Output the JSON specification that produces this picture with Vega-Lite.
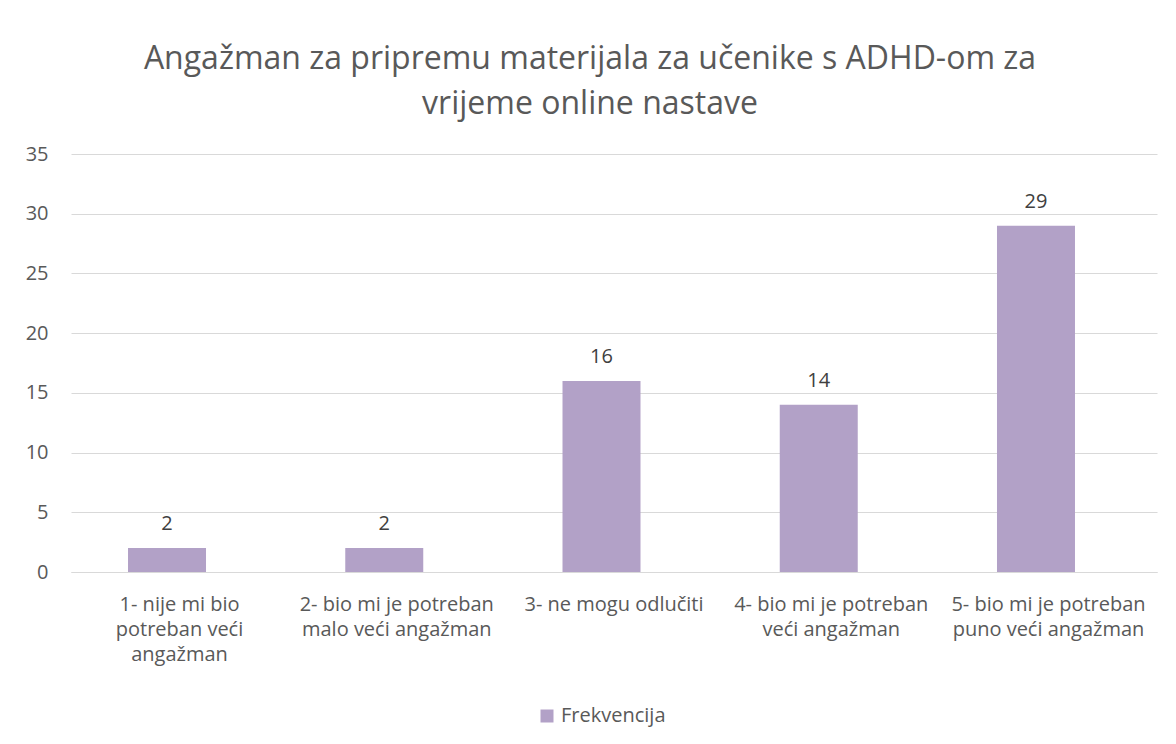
{
  "$schema": "https://vega.github.io/schema/vega-lite/v6.json",
  "autosize": {"type": "none"},
  "width": 1086,
  "height": 418,
  "padding": {"left": 71, "top": 154, "right": 19, "bottom": 172},
  "background": "white",
  "data": {"values": [
    {"kategorija": "1- nije mi bio potreban veći angažman", "serija": "Frekvencija", "frekvencija": 2},
    {"kategorija": "2- bio mi je potreban malo veći angažman", "serija": "Frekvencija", "frekvencija": 2},
    {"kategorija": "3- ne mogu odlučiti", "serija": "Frekvencija", "frekvencija": 16},
    {"kategorija": "4- bio mi je potreban veći angažman", "serija": "Frekvencija", "frekvencija": 14},
    {"kategorija": "5- bio mi je potreban puno veći angažman", "serija": "Frekvencija", "frekvencija": 29}
  ]},
  "title": {
    "text": ["Angažman za pripremu materijala za učenike s ADHD-om za", "vrijeme online nastave"],
    "font": "Open Sans",
    "fontSize": 32,
    "fontWeight": "normal",
    "color": "#595959",
    "anchor": "middle",
    "frame": "group",
    "dx": -24,
    "offset": 23,
    "lineHeight": 45
  },
  "encoding": {
    "x": {
      "field": "kategorija",
      "type": "nominal",
      "sort": null,
      "scale": {"paddingInner": 0.641, "paddingOuter": 0.32},
      "axis": {
        "title": null,
        "labelAngle": 0,
        "ticks": false,
        "domainColor": "#d9d9d9",
        "domainWidth": 1,
        "labelFont": "Open Sans",
        "labelFontSize": 20,
        "labelColor": "#595959",
        "labelPadding": 22,
        "labelLineHeight": 25,
        "labelBaseline": "top",
        "labelLimit": 300,
        "labelExpr": "{'1- nije mi bio potreban veći angažman': ['1- nije mi bio', 'potreban veći', 'angažman'], '2- bio mi je potreban malo veći angažman': ['2- bio mi je potreban', 'malo veći angažman'], '3- ne mogu odlučiti': ['3- ne mogu odlučiti'], '4- bio mi je potreban veći angažman': ['4- bio mi je potreban', 'veći angažman'], '5- bio mi je potreban puno veći angažman': ['5- bio mi je potreban', 'puno veći angažman']}[datum.value]"
      }
    },
    "y": {
      "field": "frekvencija",
      "type": "quantitative",
      "scale": {"domain": [0, 35]},
      "axis": {
        "title": null,
        "values": [0, 5, 10, 15, 20, 25, 30, 35],
        "ticks": false,
        "domain": false,
        "gridColor": "#d9d9d9",
        "gridWidth": 1,
        "labelFont": "Open Sans",
        "labelFontSize": 20,
        "labelColor": "#595959",
        "labelPadding": 23
      }
    }
  },
  "layer": [
    {
      "mark": {"type": "bar", "xOffset": -12.5, "color": "#b2a1c7"},
      "encoding": {
        "color": {
          "field": "serija",
          "type": "nominal",
          "scale": {"range": ["#b2a1c7"]},
          "legend": {
            "title": null,
            "orient": "none",
            "legendX": 466,
            "legendY": 552,
            "symbolType": "square",
            "symbolSize": 169,
            "symbolStrokeWidth": 0,
            "labelFont": "Open Sans",
            "labelFontSize": 20,
            "labelColor": "#595959",
            "labelOffset": 4
          }
        }
      }
    },
    {
      "mark": {"type": "text", "xOffset": -12.5, "dy": -14, "baseline": "bottom", "font": "Open Sans", "fontSize": 20, "color": "#404040"},
      "encoding": {"text": {"field": "frekvencija", "type": "quantitative"}}
    }
  ],
  "config": {"view": {"stroke": null}}
}
